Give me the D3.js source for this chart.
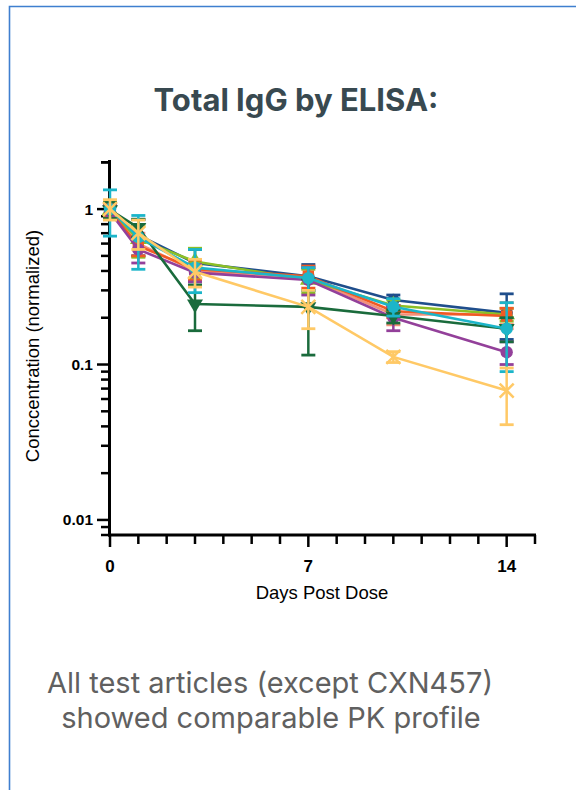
<!DOCTYPE html>
<html><head><meta charset="utf-8">
<script src="https://cdn.jsdelivr.net/npm/d3@7"></script>
<style>
html,body{margin:0;padding:0;background:#fff;}
svg{display:block;}
</style></head>
<body>
<svg id="c" width="576" height="790"></svg>
<script>
const days = [0, 1, 3, 7, 10, 14];
const xTicks = [0, 7, 14];
const yTicks = [1, 0.1, 0.01];
const yTickLabels = ["1", "0.1", "0.01"];

const seriesNames = ["A", "B", "C", "D", "E", "F", "G", "CXN457"];
const seriesColors = ["#f4907a", "#1f4e8c", "#8cbf26", "#f15a24", "#93409a", "#1a6b3c", "#1cb5c9", "#ffc966"];
const seriesShapes = ["diamond", "circle", "triangle", "square", "circle", "triangleDown", "circle", "x"];

const salmonVals   = [0.98, 0.60, 0.40, 0.36, 0.21, 0.21];
const navyVals     = [1.00, 0.68, 0.45, 0.37, 0.26, 0.215];
const greenVals    = [0.98, 0.64, 0.46, 0.35, 0.24, 0.21];
const orangeVals   = [0.97, 0.58, 0.41, 0.37, 0.22, 0.205];
const purpleVals   = [0.96, 0.55, 0.39, 0.35, 0.20, 0.12];
const dkGreenVals  = [0.99, 0.76, 0.245, 0.235, 0.205, 0.17];
const cyanVals     = [1.00, 0.66, 0.42, 0.36, 0.235, 0.17];
const yellowVals   = [1.00, 0.70, 0.395, 0.235, 0.112, 0.068];

const salmonSD  = [0.10, 0.10, 0.05, 0.06, 0.03, 0.04];
const navySD    = [0.10, 0.18, 0.10, 0.07, 0.02, 0.07];
const greenSD   = [0.10, 0.15, 0.10, 0.06, 0.02, 0.02];
const orangeSD  = [0.10, 0.08, 0.06, 0.06, 0.02, 0.025];
const purpleSD  = [0.10, 0.10, 0.05, 0.07, 0.035, 0.02];
const dkGreenSD = [0.12, 0.10, 0.08, 0.12, 0.02, 0.03];
const cyanSD    = [0.33, 0.25, 0.13, 0.06, 0.03, 0.08];
const yellowSD  = [0.15, 0.15, 0.08, 0.065, 0.009, 0.027];

const allVals = [salmonVals, navyVals, greenVals, orangeVals, purpleVals, dkGreenVals, cyanVals, yellowVals];
const allSD = [salmonSD, navySD, greenSD, orangeSD, purpleSD, dkGreenSD, cyanSD, yellowSD];

const svg = d3.select("#c");

// frame
svg.append("path").attr("d", "M9.5,800 L9.5,6.5 L590,6.5")
  .attr("fill", "none").attr("stroke", "#3f7fcf").attr("stroke-width", 1.6);

// title
svg.append("text").attr("x", 296).attr("y", 111).attr("text-anchor", "middle")
  .attr("font-family", "Inter, 'Open Sans', sans-serif").attr("font-weight", 700)
  .attr("font-size", 31).attr("fill", "#384950").text("Total IgG by ELISA:");

// bottom text
const note = svg.append("text").attr("text-anchor", "middle")
  .attr("font-family", "Inter, 'Open Sans', sans-serif").attr("font-size", 29).attr("fill", "#606060");
note.append("tspan").attr("x", 270).attr("y", 693).text("All test articles (except CXN457)");
note.append("tspan").attr("x", 271).attr("y", 728).text("showed comparable PK profile");

const x = d3.scaleLinear().domain([0, 15]).range([110, 535]);
const y = d3.scaleLog().domain([0.008, 2.07]).range([535, 160]);

// axes
const gy = svg.append("g");
gy.append("line").attr("x1", 109.5).attr("x2", 109.5).attr("y1", 160).attr("y2", 536.5)
  .attr("stroke", "#000").attr("stroke-width", 3);
const minors = [];
[0.01, 0.1, 1].forEach(d => { for (let k = 1; k <= 9; k++) { const v = d * k; if (v >= 0.008 && v <= 2.07) minors.push(v); } });
[0.008, 0.009].forEach(v => minors.push(v));
minors.push(2);
gy.selectAll("line.mt").data(minors).join("line")
  .attr("x1", d => yTicks.some(t => Math.abs(t - d) < 1e-9) ? 97 : 101).attr("x2", 109)
  .attr("y1", d => y(d)).attr("y2", d => y(d))
  .attr("stroke", "#000").attr("stroke-width", 2.5);
gy.selectAll("text").data(yTicks).join("text")
  .attr("x", 93).attr("y", d => y(d) + 5.5).attr("text-anchor", "end")
  .attr("font-family", "'Liberation Sans', Arial, sans-serif").attr("font-weight", 700).attr("font-size", 15.5)
  .text((d, i) => yTickLabels[i]);

const gx = svg.append("g");
gx.append("line").attr("x1", 108).attr("x2", 536).attr("y1", 535).attr("y2", 535)
  .attr("stroke", "#000").attr("stroke-width", 3);
gx.selectAll("line.t").data(d3.range(0, 16)).join("line")
  .attr("x1", d => x(d)).attr("x2", d => x(d))
  .attr("y1", 535).attr("y2", d => xTicks.includes(d) ? 547 : 544)
  .attr("stroke", "#000").attr("stroke-width", 2.5);
gx.selectAll("text").data(xTicks).join("text")
  .attr("x", d => x(d)).attr("y", 572).attr("text-anchor", "middle")
  .attr("font-family", "'Liberation Sans', Arial, sans-serif").attr("font-weight", 700).attr("font-size", 17)
  .text(d => d);

svg.append("text").attr("x", 322).attr("y", 599).attr("text-anchor", "middle")
  .attr("font-family", "'Liberation Sans', Arial, sans-serif").attr("font-size", 18.5)
  .text("Days Post Dose");
svg.append("text").attr("transform", "translate(39,346) rotate(-90)").attr("text-anchor", "middle")
  .attr("font-family", "'Liberation Sans', Arial, sans-serif").attr("font-size", 18.5)
  .text("Conccentration (normalized)");

// series
const line = d3.line().x(d => x(d[0])).y(d => y(d[1]));
const symMap = {
  circle: d3.symbolCircle, square: d3.symbolSquare, triangle: d3.symbolTriangle,
  diamond: d3.symbolDiamond, x: d3.symbolX
};
allVals.forEach((vals, si) => {
  const col = seriesColors[si];
  const sd = allSD[si];
  const g = svg.append("g");
  const pts = days.map((d, i) => [d, vals[i], sd[i]]);
  pts.forEach(p => {
    const lo = Math.max(p[1] - p[2], 0.009), hi = p[1] + p[2];
    g.append("line").attr("x1", x(p[0])).attr("x2", x(p[0])).attr("y1", y(lo)).attr("y2", y(hi))
      .attr("stroke", col).attr("stroke-width", 2.5);
    [lo, hi].forEach(v => g.append("line").attr("x1", x(p[0]) - 7).attr("x2", x(p[0]) + 7)
      .attr("y1", y(v)).attr("y2", y(v)).attr("stroke", col).attr("stroke-width", 2.8));
  });
  g.append("path").datum(pts).attr("d", line).attr("fill", "none")
    .attr("stroke", col).attr("stroke-width", 2.6);
  const shape = seriesShapes[si];
  pts.forEach(p => {
    const cx = x(p[0]), cy = y(p[1]);
    if (shape === "x") {
      g.append("path").attr("transform", `translate(${cx},${cy})`)
        .attr("d", "M-7,-7L7,7M-7,7L7,-7").attr("stroke", col).attr("stroke-width", 2.5).attr("fill", "none");
    } else if (shape === "triangleDown") {
      g.append("path").attr("transform", `translate(${cx},${cy}) rotate(180)`)
        .attr("d", d3.symbol(d3.symbolTriangle, 110)()).attr("fill", col);
    } else {
      g.append("path").attr("transform", `translate(${cx},${cy})`)
        .attr("d", d3.symbol(symMap[shape], shape === "square" ? 130 : 120)()).attr("fill", col);
    }
  });
});
</script>
</body></html>
